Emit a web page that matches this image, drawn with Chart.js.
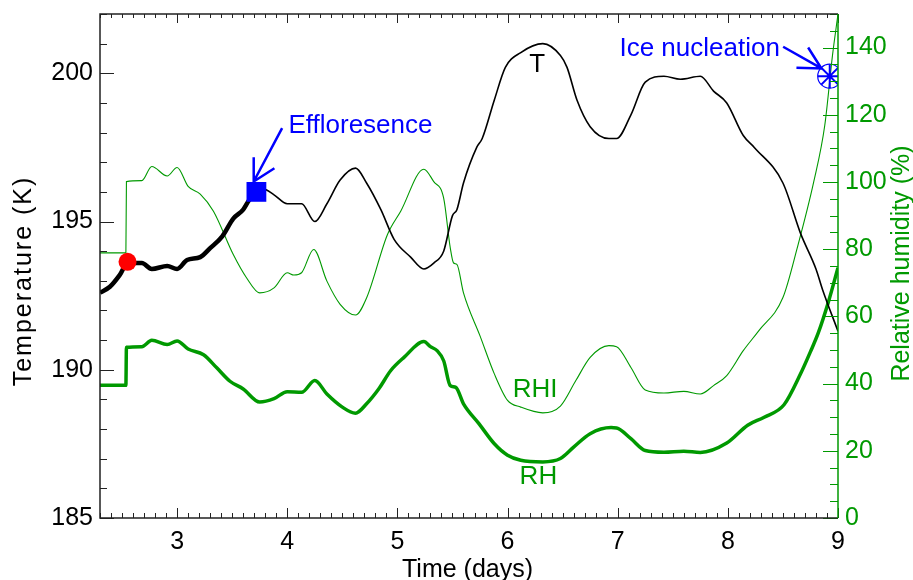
<!DOCTYPE html>
<html>
<head>
<meta charset="utf-8">
<script src="https://cdn.jsdelivr.net/npm/chart.js@4"></script>
<style>
  html, body { margin: 0; padding: 0; background: #fff; }
</style>
</head>
<body>
<canvas id="chart" width="913" height="580"></canvas>
<script>
// Temperature along the trajectory (K)
const tempDays = [2.30, 2.39, 2.48, 2.55, 2.60, 2.68, 2.77, 2.91, 3.00, 3.09, 3.21, 3.30, 3.41, 3.51, 3.60, 3.65, 3.72,
    3.78, 3.88, 4.00, 4.06, 4.13, 4.25, 4.36, 4.48, 4.62, 4.72, 4.85, 4.97, 5.12, 5.24, 5.33, 5.42, 5.50, 5.54, 5.60,
    5.72, 5.77, 5.88, 5.98, 6.12, 6.32, 6.48, 6.54, 6.63, 6.75, 6.92, 6.99, 7.12, 7.25, 7.42, 7.57, 7.75, 7.87, 7.99,
    8.14, 8.24, 8.50, 8.66, 8.80, 8.86, 9.00];
const tempK = [192.6, 192.8, 193.2, 193.6, 193.6, 193.6, 193.4, 193.5, 193.4, 193.7, 193.8, 194.1, 194.5, 195.1, 195.4, 195.7, 196.0,
    196.1, 195.9, 195.6, 195.6, 195.6, 195.0, 195.6, 196.4, 196.8, 196.3, 195.4, 194.4, 193.8, 193.4, 193.6, 194.0, 195.2, 195.4, 196.3,
    197.5, 197.8, 199.1, 200.2, 200.7, 201.0, 200.6, 200.2, 199.1, 198.2, 197.8, 197.8, 198.6, 199.7, 199.9, 199.8, 199.9, 199.4, 199.0,
    197.9, 197.5, 196.3, 194.6, 193.4, 192.7, 191.3];

// Relative humidity over ice (%)
const rhiDays = [2.30, 2.535, 2.54, 2.68, 2.77, 2.91, 3.00, 3.10, 3.21, 3.33, 3.51, 3.63, 3.75, 3.88, 4.00, 4.06, 4.13, 4.24,
    4.36, 4.48, 4.62, 4.72, 4.91, 5.03, 5.24, 5.33, 5.42, 5.48, 5.51, 5.54, 5.60, 5.75, 5.88, 6.00, 6.12, 6.32, 6.48, 6.62,
    6.75, 6.92, 6.99, 7.12, 7.25, 7.42, 7.60, 7.75, 7.87, 7.99, 8.14, 8.28, 8.50, 8.63, 8.78, 8.88, 8.95, 9.00];
const rhiValues = [78.9, 78.9, 100.1, 100.4, 104.6, 101.8, 104.3, 98.7, 96.4, 91.3, 78.4, 71.5, 67.0, 68.5, 73.0, 72.3, 73.0, 79.9,
    70.5, 63.6, 60.4, 65.5, 84.4, 91.3, 103.8, 100.1, 95.2, 80.4, 75.9, 75.5, 67.0, 54.2, 42.9, 35.0, 33.0, 31.3, 33.3, 40.9,
    47.8, 51.3, 51.0, 44.8, 38.1, 37.2, 37.7, 36.9, 39.4, 42.4, 49.8, 55.7, 65.6, 80.4, 100.1, 116.9, 137.7, 150.0];

// Relative humidity over liquid (%)
const rhDays = [2.30, 2.535, 2.54, 2.68, 2.77, 2.91, 3.00, 3.10, 3.24, 3.36, 3.48, 3.60, 3.75, 3.88, 4.00, 4.13, 4.25, 4.36,
    4.50, 4.62, 4.72, 4.83, 4.94, 5.06, 5.24, 5.30, 5.36, 5.42, 5.48, 5.53, 5.60, 5.74, 5.88, 6.00, 6.12, 6.32, 6.48, 6.60,
    6.75, 6.94, 6.99, 7.12, 7.25, 7.42, 7.60, 7.75, 7.99, 8.18, 8.33, 8.51, 8.66, 8.75, 8.82, 8.91, 9.00];
const rhValues = [39.5, 39.5, 50.8, 51.0, 52.9, 51.6, 52.7, 50.3, 48.6, 44.7, 40.7, 38.4, 34.5, 35.5, 37.6, 37.4, 40.9, 36.9,
    33.0, 31.2, 34.0, 38.4, 43.9, 47.8, 52.5, 51.0, 49.8, 46.8, 39.4, 38.9, 34.0, 28.1, 22.1, 18.7, 17.2, 16.7, 17.7, 21.1,
    25.1, 26.9, 26.8, 23.6, 20.1, 19.6, 19.9, 19.5, 22.3, 27.6, 30.0, 33.7, 42.9, 49.5, 55.0, 64.0, 74.5];

// events: [day, value]
const deliquescence = [2.55, 193.64];
const efflorescence = [3.72, 196.0];
const iceNucleation = [8.925, 131.5];

const dayTicks = [3, 4, 5, 6, 7, 8, 9];
const tempTicks = [185, 190, 195, 200];
const rhTicks = [0, 20, 40, 60, 80, 100, 120, 140];

const GREEN = '#009900';
const BLUE = '#0000ff';
const FONT = '"Liberation Sans", Arial, Helvetica, sans-serif';

const toPoints = (xs, ys) => xs.map((d, i) => ({ x: d, y: ys[i] }));
const tempAll = toPoints(tempDays, tempK);
const tempThick = tempAll.filter(p => p.x <= efflorescence[0]);
const tempThin = tempAll.filter(p => p.x >= efflorescence[0]);

// ticks, frame, titles and labels in the IDL look
const decorations = {
    id: 'decorations',
    afterDraw(chart) {
        const { ctx, chartArea: a, scales } = chart;
        const x = scales.x, y = scales.y, y1 = scales.y1;
        ctx.save();

        // minor + major ticks, pointing inward
        ctx.lineWidth = 1;
        ctx.strokeStyle = '#222';
        ctx.beginPath();
        for (let i = 23; i <= 90; i++) {
            const px = Math.round(x.getPixelForValue(i / 10)) + 0.5;
            const major = i % 10 === 0;
            ctx.moveTo(px, a.bottom); ctx.lineTo(px, a.bottom - (major ? 10 : 5));
            ctx.moveTo(px, a.top); ctx.lineTo(px, a.top + (major ? 9 : 4));
        }
        for (let v = 185; v <= 202; v++) {
            const py = Math.round(y.getPixelForValue(v)) + 0.5;
            ctx.moveTo(a.left, py); ctx.lineTo(a.left + (v % 5 === 0 ? 14 : 7), py);
        }
        ctx.stroke();

        ctx.strokeStyle = GREEN;
        ctx.beginPath();
        for (let v = 0; v <= 150; v += 5) {
            const py = Math.round(y1.getPixelForValue(v)) + 0.5;
            ctx.moveTo(a.right, py); ctx.lineTo(a.right - (v % 20 === 0 ? 15 : 8), py);
        }
        ctx.stroke();

        // frame
        ctx.lineWidth = 1.5;
        ctx.strokeStyle = '#222';
        ctx.beginPath();
        ctx.moveTo(a.right, a.top); ctx.lineTo(a.left, a.top);
        ctx.lineTo(a.left, a.bottom); ctx.lineTo(a.right, a.bottom);
        ctx.stroke();
        ctx.strokeStyle = GREEN;
        ctx.beginPath();
        ctx.moveTo(a.right, a.top); ctx.lineTo(a.right, a.bottom);
        ctx.stroke();

        // axis titles
        ctx.font = '25px ' + FONT;
        ctx.textAlign = 'center';
        ctx.textBaseline = 'alphabetic';
        ctx.fillStyle = '#000';
        ctx.fillText('Time (days)', 467.5, 577);

        ctx.save();
        ctx.translate(30.5, 281);
        ctx.rotate(-Math.PI / 2);
        ctx.letterSpacing = '2px';
        ctx.fillText('Temperature (K)', 0, 0);
        ctx.restore();

        ctx.save();
        ctx.translate(909, 263.5);
        ctx.rotate(-Math.PI / 2);
        ctx.fillStyle = GREEN;
        ctx.fillText('Relative humidity (%)', 0, 0);
        ctx.restore();

        // curve labels
        ctx.font = '26px ' + FONT;
        ctx.textBaseline = 'middle';
        ctx.fillStyle = '#000';
        ctx.fillText('T', x.getPixelForValue(6.27), y.getPixelForValue(200.28));
        ctx.fillStyle = GREEN;
        ctx.fillText('RHI', x.getPixelForValue(6.25), y1.getPixelForValue(38.1));
        ctx.fillText('RH', x.getPixelForValue(6.28), y1.getPixelForValue(12.4));

        // event annotations with arrows
        ctx.strokeStyle = BLUE;
        ctx.fillStyle = BLUE;
        ctx.lineWidth = 2.5;
        ctx.textAlign = 'left';
        ctx.textBaseline = 'alphabetic';

        const ex = x.getPixelForValue(efflorescence[0]);
        const ey = y.getPixelForValue(efflorescence[1]);
        let tx = ex - 2.7, ty = ey - 10.4;
        ctx.beginPath();
        ctx.moveTo(tx + 28.4, ty - 53.3); ctx.lineTo(tx, ty);
        ctx.moveTo(tx, ty - 24.3); ctx.lineTo(tx, ty); ctx.lineTo(tx + 20.7, ty - 13.3);
        ctx.stroke();
        ctx.fillText('Effloresence', ex + 32, ey - 58.7);

        const ix = x.getPixelForValue(iceNucleation[0]);
        const iy = y1.getPixelForValue(iceNucleation[1]);
        tx = ix - 8.3; ty = iy - 7.7;
        ctx.beginPath();
        ctx.moveTo(tx - 38.3, ty - 21.7); ctx.lineTo(tx, ty);
        ctx.moveTo(tx - 13.3, ty - 21); ctx.lineTo(tx, ty); ctx.lineTo(tx - 25, ty - 0.7);
        ctx.stroke();
        ctx.fillText('Ice nucleation', ix - 210.3, iy - 20);

        ctx.restore();
    }
};

new Chart(document.getElementById('chart'), {
    type: 'line',
    data: {
        datasets: [
            {
                data: [{ x: deliquescence[0], y: deliquescence[1] }],
                yAxisID: 'y', showLine: false,
                pointStyle: 'circle', pointRadius: 9,
                pointBackgroundColor: '#ff0000', pointBorderColor: '#ff0000', pointBorderWidth: 0
            },
            {
                data: [{ x: efflorescence[0], y: efflorescence[1] }],
                yAxisID: 'y', showLine: false,
                pointStyle: 'rect', pointRadius: 14,
                pointBackgroundColor: BLUE, pointBorderColor: BLUE, pointBorderWidth: 0
            },
            {
                data: [{ x: iceNucleation[0], y: iceNucleation[1] }],
                yAxisID: 'y1', showLine: false,
                pointStyle: 'star', pointRadius: 12,
                pointBorderColor: BLUE, pointBorderWidth: 2
            },
            {
                data: [{ x: iceNucleation[0], y: iceNucleation[1] }],
                yAxisID: 'y1', showLine: false,
                pointStyle: 'circle', pointRadius: 12,
                pointBackgroundColor: 'rgba(0,0,0,0)', pointBorderColor: BLUE, pointBorderWidth: 1.2
            },
            {
                data: tempThick, yAxisID: 'y',
                borderColor: '#000', borderWidth: 4.5, pointRadius: 0,
                cubicInterpolationMode: 'monotone'
            },
            {
                data: tempThin, yAxisID: 'y',
                borderColor: '#000', borderWidth: 1.6, pointRadius: 0,
                cubicInterpolationMode: 'monotone'
            },
            {
                data: toPoints(rhiDays, rhiValues), yAxisID: 'y1',
                borderColor: GREEN, borderWidth: 1.1, pointRadius: 0,
                cubicInterpolationMode: 'monotone'
            },
            {
                data: toPoints(rhDays, rhValues), yAxisID: 'y1',
                borderColor: GREEN, borderWidth: 3.5, pointRadius: 0,
                cubicInterpolationMode: 'monotone'
            }
        ]
    },
    options: {
        responsive: false,
        devicePixelRatio: 1,
        animation: false,
        layout: { padding: { top: 9.5, left: 0, right: 0, bottom: 0 } },
        plugins: { legend: { display: false }, tooltip: { enabled: false } },
        scales: {
            x: {
                type: 'linear', min: 2.3, max: 9,
                grid: { display: false, drawTicks: false },
                border: { display: false },
                afterBuildTicks: s => { s.ticks = dayTicks.map(v => ({ value: v })); },
                afterFit: s => { s.height = 62; s.paddingLeft = 0; s.paddingRight = 0; },
                ticks: { padding: 9, color: '#000', font: { size: 25, family: FONT }, maxRotation: 0 }
            },
            y: {
                position: 'left', min: 185, max: 202,
                grid: { display: false, drawTicks: false },
                border: { display: false },
                afterBuildTicks: s => { s.ticks = tempTicks.map(v => ({ value: v })); },
                afterFit: s => { s.width = 100; s.paddingTop = 0; s.paddingBottom = 0; },
                ticks: { padding: 7, color: '#000', font: { size: 25, family: FONT } }
            },
            y1: {
                position: 'right', min: 0, max: 150,
                grid: { display: false, drawTicks: false },
                border: { display: false },
                afterBuildTicks: s => { s.ticks = rhTicks.map(v => ({ value: v })); },
                afterFit: s => { s.width = 75; s.paddingTop = 0; s.paddingBottom = 0; },
                ticks: { padding: 7, color: GREEN, font: { size: 25, family: FONT } }
            }
        }
    },
    plugins: [decorations]
});
</script>
</body>
</html>
